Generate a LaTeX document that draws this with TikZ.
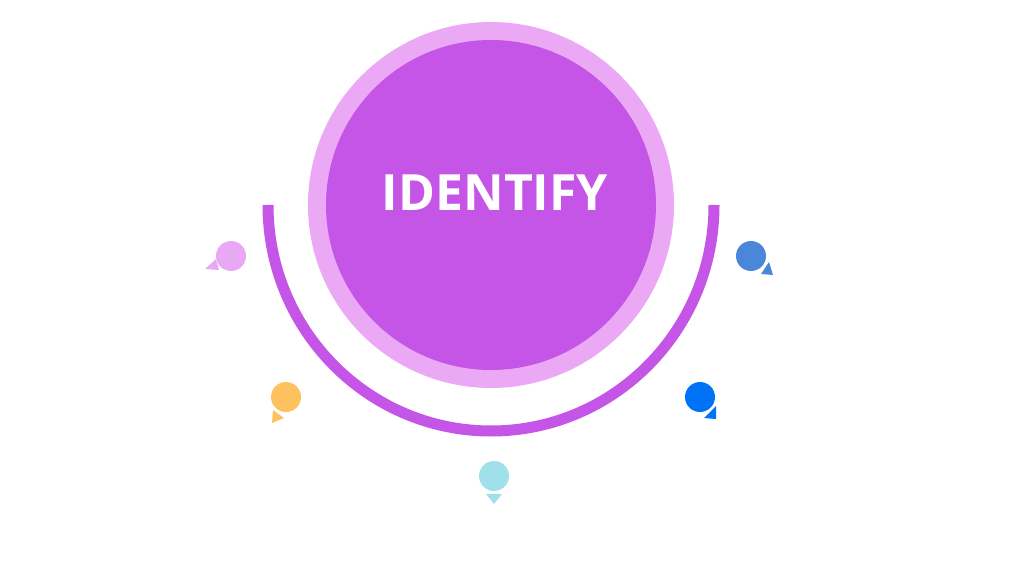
\documentclass[tikz,border=0pt]{standalone}
\usepackage{fontspec}
\setmainfont{Open Sans}
\definecolor{lightp}{HTML}{EBA9F5}
\definecolor{darkp}{HTML}{C455E6}
\definecolor{mpink}{HTML}{E8A8F4}
\definecolor{morange}{HTML}{FDC25E}
\definecolor{mcyan}{HTML}{A0E0EB}
\definecolor{mblue}{HTML}{0072F5}
\definecolor{msteel}{HTML}{4A86DA}
\begin{document}
\begin{tikzpicture}[x=1pt,y=-1pt,
  dot/.style={circle,minimum size=30pt,inner sep=0pt}]
\useasboundingbox (0,0) rectangle (1024,585);
\node[circle,fill=lightp,minimum size=366pt,inner sep=0pt] (outer) at (491,205) {};
\node[circle,fill=darkp,minimum size=330pt,inner sep=0pt] (inner) at (491,205) {};
\node[font=\bfseries\fontsize{50}{50}\selectfont,text=white] (label) at (495,193) {IDENTIFY};
\draw[darkp,line width=11pt] (268,205) arc[start angle=180,end angle=360,x radius=223,y radius=-226];
% markers
\node[dot,fill=mpink] (m1) at (231,256) {};
\fill[mpink] (216,259) -- (205,269) -- (219,270) -- cycle;
\node[dot,fill=morange] (m2) at (286,397) {};
\fill[morange] (273,410) -- (272,423) -- (284,418) -- cycle;
\node[dot,fill=mcyan] (m3) at (494,476) {};
\fill[mcyan] (486,494) -- (502,494) -- (494,504) -- cycle;
\node[dot,fill=mblue] (m4) at (700,397) {};
\fill[mblue] (716,406) -- (716,419) -- (704,418) -- cycle;
\node[dot,fill=msteel] (m5) at (751,256) {};
\fill[msteel] (769,262) -- (773,275) -- (761,274) -- cycle;
\end{tikzpicture}
\end{document}
